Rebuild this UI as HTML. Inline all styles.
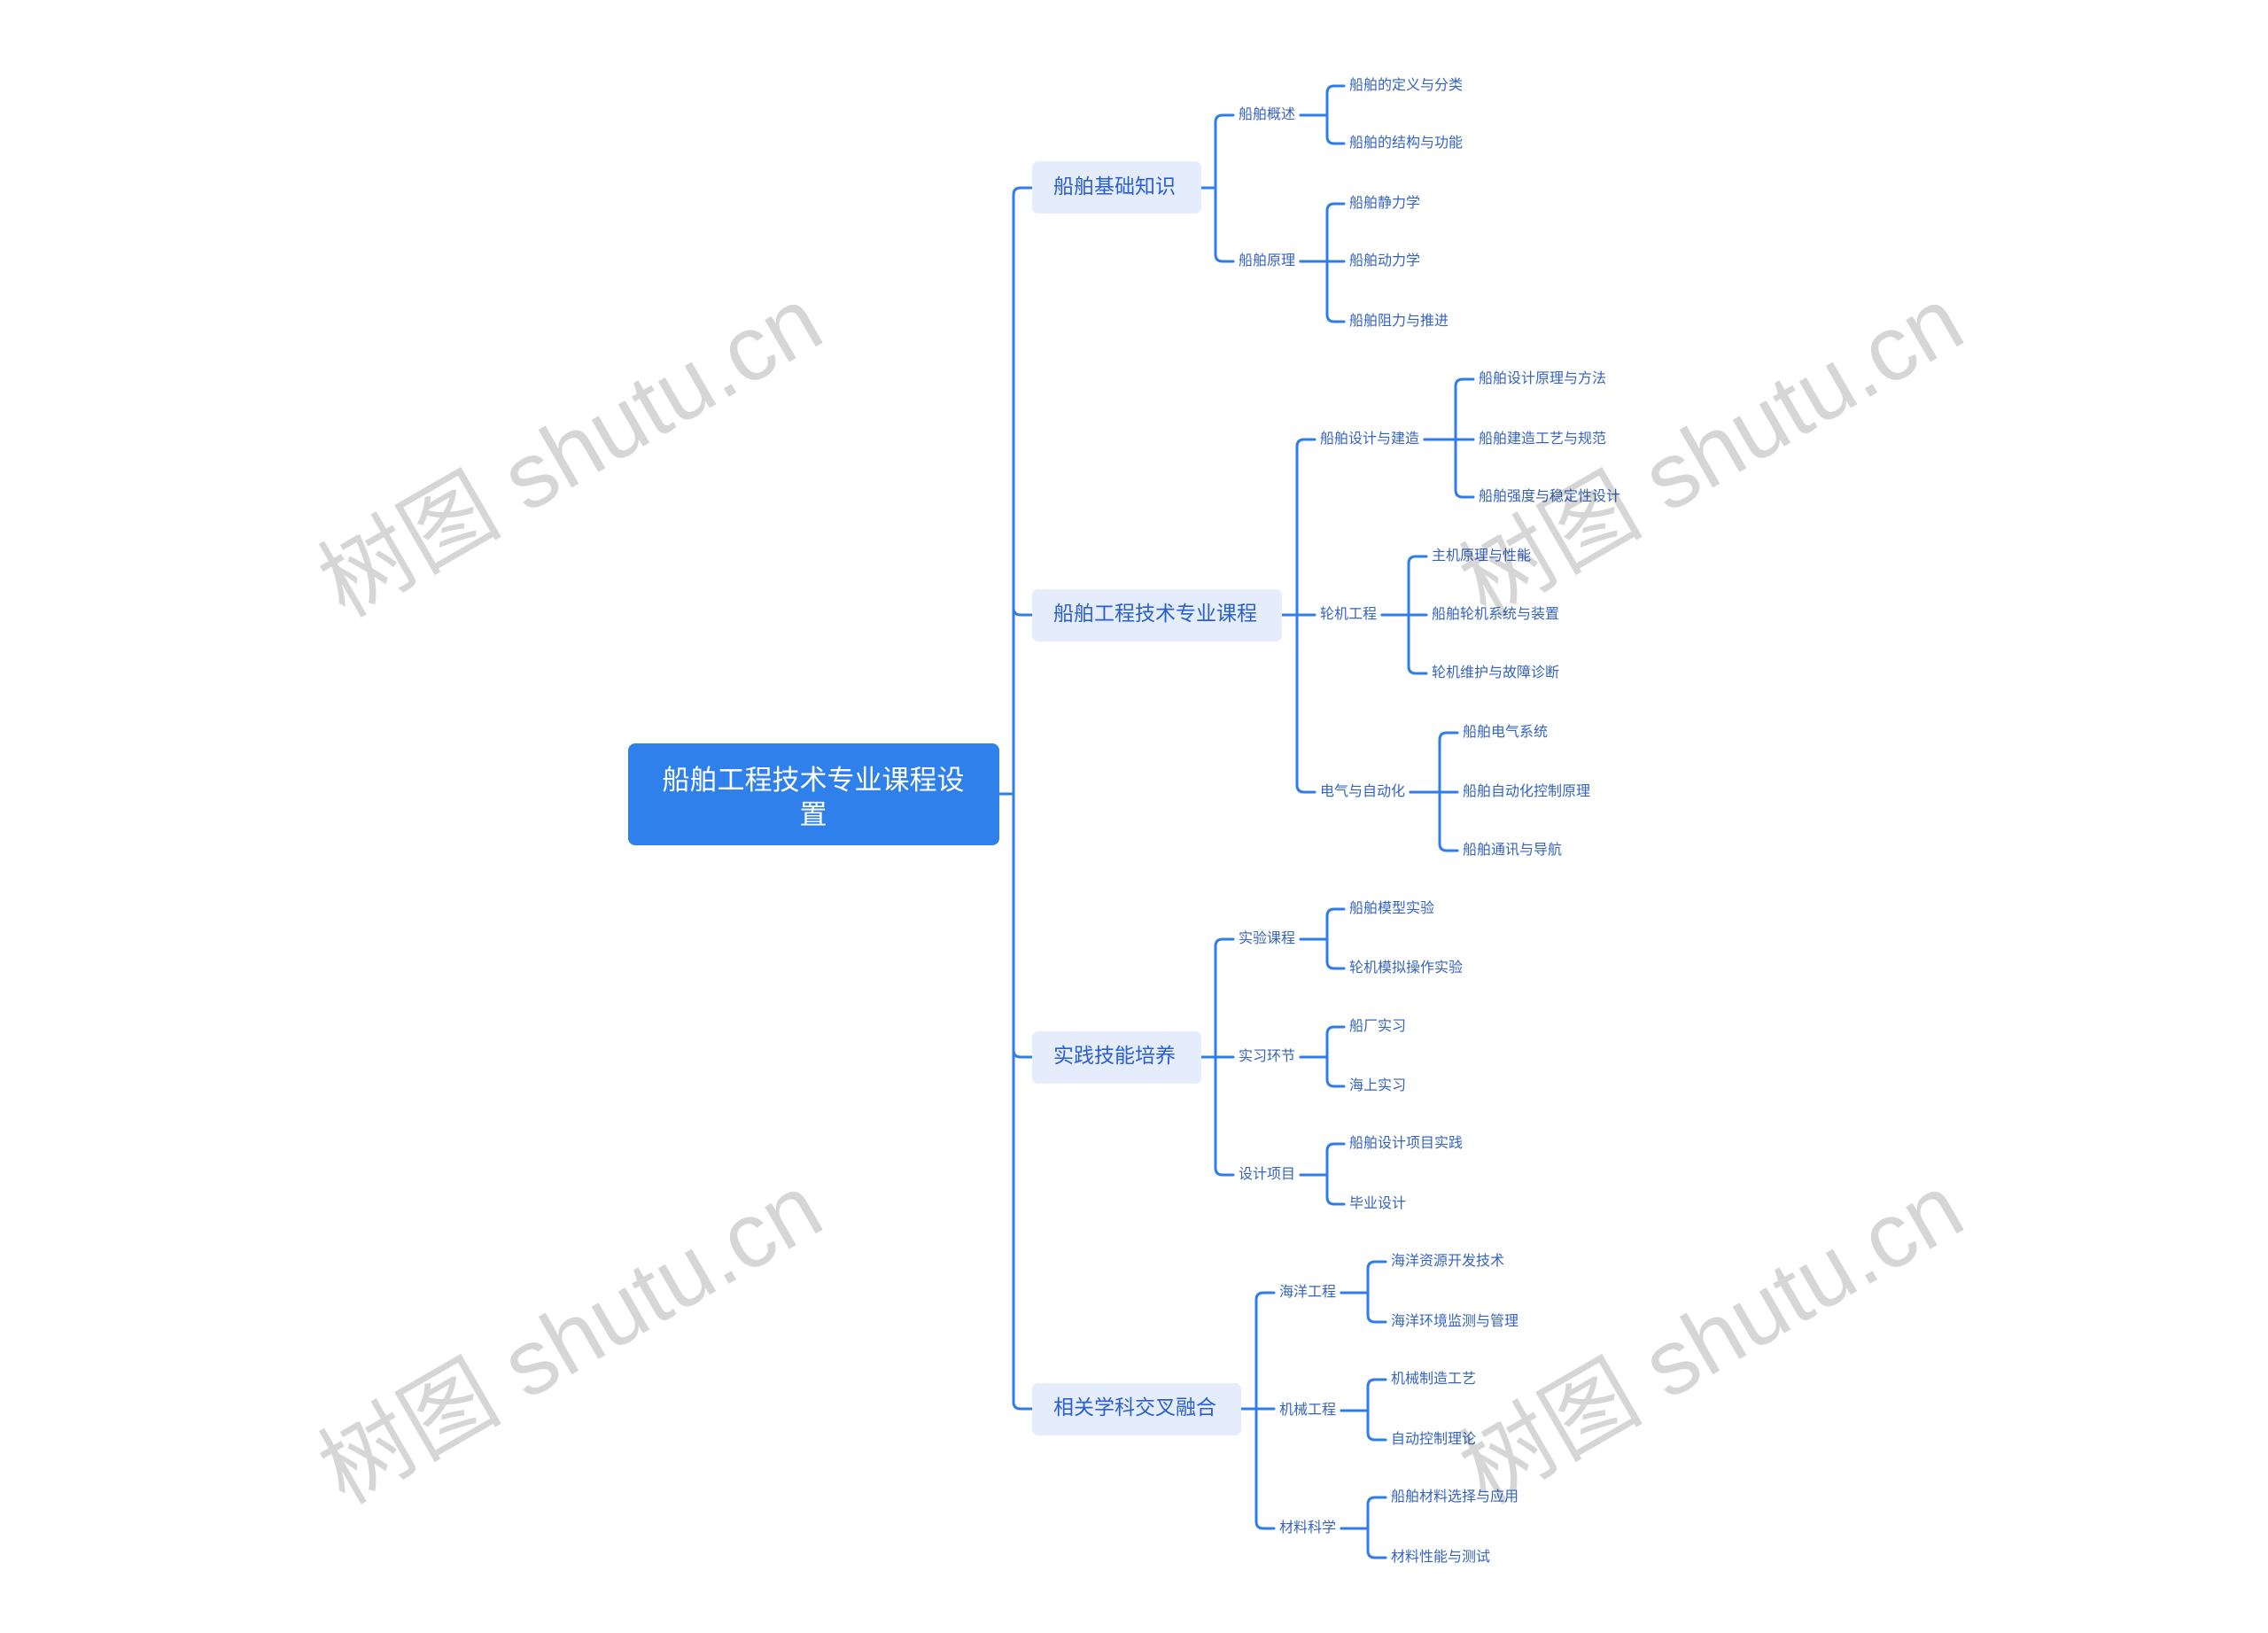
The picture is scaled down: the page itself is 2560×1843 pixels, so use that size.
<!DOCTYPE html>
<html><head><meta charset="utf-8"><style>
html,body{margin:0;padding:0;background:#fff;}
svg{display:block;}
text{font-family:"Liberation Sans","Noto Sans CJK SC",sans-serif;}
.l1{font-size:23px;fill:#2a5fd0;}
.l2{font-size:16px;fill:#3563c0;}
.lf{font-size:16px;fill:#3563c0;}
.wm{font-family:"Liberation Serif","Noto Serif CJK SC",serif;font-size:104px;fill:#000;fill-opacity:0.16;}
</style></head><body>
<svg width="2560" height="1843" viewBox="0 0 2560 1843" xmlns="http://www.w3.org/2000/svg">
<g fill="none" stroke="#2f7de8" stroke-width="3" stroke-linecap="round">
<path d="M1128 896 H1144 V220 Q1144 212 1152 212 H1165"/>
<path d="M1128 896 H1144 V686 Q1144 694 1152 694 H1165"/>
<path d="M1128 896 H1144 V1185 Q1144 1193 1152 1193 H1165"/>
<path d="M1128 896 H1144 V1582 Q1144 1590 1152 1590 H1165"/>
<path d="M1356 212 H1372 V138 Q1372 130 1380 130 H1392"/>
<path d="M1356 212 H1372 V287 Q1372 295 1380 295 H1392"/>
<path d="M1468 130 H1498 V105 Q1498 97 1506 97 H1517"/>
<path d="M1468 130 H1498 V154 Q1498 162 1506 162 H1517"/>
<path d="M1468 295 H1498 V238 Q1498 230 1506 230 H1517"/>
<path d="M1468 295 H1517"/>
<path d="M1468 295 H1498 V355 Q1498 363 1506 363 H1517"/>
<path d="M1447 694 H1464 V504 Q1464 496 1472 496 H1484"/>
<path d="M1447 694 H1484"/>
<path d="M1447 694 H1464 V886 Q1464 894 1472 894 H1484"/>
<path d="M1608 496 H1643 V436 Q1643 428 1651 428 H1663"/>
<path d="M1608 496 H1663"/>
<path d="M1608 496 H1643 V553 Q1643 561 1651 561 H1663"/>
<path d="M1560 694 H1590 V636 Q1590 628 1598 628 H1610"/>
<path d="M1560 694 H1610"/>
<path d="M1560 694 H1590 V752 Q1590 760 1598 760 H1610"/>
<path d="M1592 894 H1625 V835 Q1625 827 1633 827 H1645"/>
<path d="M1592 894 H1645"/>
<path d="M1592 894 H1625 V952 Q1625 960 1633 960 H1645"/>
<path d="M1356 1193 H1372 V1068 Q1372 1060 1380 1060 H1392"/>
<path d="M1356 1193 H1392"/>
<path d="M1356 1193 H1372 V1318 Q1372 1326 1380 1326 H1392"/>
<path d="M1468 1060 H1498 V1034 Q1498 1026 1506 1026 H1517"/>
<path d="M1468 1060 H1498 V1085 Q1498 1093 1506 1093 H1517"/>
<path d="M1468 1193 H1498 V1167 Q1498 1159 1506 1159 H1517"/>
<path d="M1468 1193 H1498 V1218 Q1498 1226 1506 1226 H1517"/>
<path d="M1468 1326 H1498 V1299 Q1498 1291 1506 1291 H1517"/>
<path d="M1468 1326 H1498 V1351 Q1498 1359 1506 1359 H1517"/>
<path d="M1401 1590 H1418 V1467 Q1418 1459 1426 1459 H1438"/>
<path d="M1401 1590 H1438"/>
<path d="M1401 1590 H1418 V1717 Q1418 1725 1426 1725 H1438"/>
<path d="M1514 1459 H1544 V1432 Q1544 1424 1552 1424 H1564"/>
<path d="M1514 1459 H1544 V1484 Q1544 1492 1552 1492 H1564"/>
<path d="M1514 1592 H1544 V1565 Q1544 1557 1552 1557 H1564"/>
<path d="M1514 1592 H1544 V1617 Q1544 1625 1552 1625 H1564"/>
<path d="M1514 1725 H1544 V1698 Q1544 1690 1552 1690 H1564"/>
<path d="M1514 1725 H1544 V1750 Q1544 1758 1552 1758 H1564"/>
</g>
<rect x="709" y="839" width="419" height="115" rx="8" fill="#2f80ea"/>
<text x="918" y="883" text-anchor="middle" dominant-baseline="middle" style="font-size:31px;fill:#fff">船舶工程技术专业课程设</text>
<text x="918" y="922" text-anchor="middle" dominant-baseline="middle" style="font-size:31px;fill:#fff">置</text>
<g fill="#e5edfd">
<rect x="1165" y="182" width="191" height="59" rx="7"/>
<rect x="1165" y="665" width="282" height="59" rx="7"/>
<rect x="1165" y="1164" width="191" height="59" rx="7"/>
<rect x="1165" y="1561" width="236" height="59" rx="7"/>
</g>
<g class="l1" dominant-baseline="middle">
<text x="1189" y="212">船舶基础知识</text>
<text x="1189" y="694">船舶工程技术专业课程</text>
<text x="1189" y="1193">实践技能培养</text>
<text x="1189" y="1590">相关学科交叉融合</text>
</g>
<g class="l2" dominant-baseline="middle">
<text x="1398" y="130">船舶概述</text>
<text x="1398" y="295">船舶原理</text>
<text x="1490" y="496">船舶设计与建造</text>
<text x="1490" y="694">轮机工程</text>
<text x="1490" y="894">电气与自动化</text>
<text x="1398" y="1060">实验课程</text>
<text x="1398" y="1193">实习环节</text>
<text x="1398" y="1326">设计项目</text>
<text x="1444" y="1459">海洋工程</text>
<text x="1444" y="1592">机械工程</text>
<text x="1444" y="1725">材料科学</text>
</g>
<g class="lf" dominant-baseline="middle">
<text x="1523" y="97">船舶的定义与分类</text>
<text x="1523" y="162">船舶的结构与功能</text>
<text x="1523" y="230">船舶静力学</text>
<text x="1523" y="295">船舶动力学</text>
<text x="1523" y="363">船舶阻力与推进</text>
<text x="1669" y="428">船舶设计原理与方法</text>
<text x="1669" y="496">船舶建造工艺与规范</text>
<text x="1669" y="561">船舶强度与稳定性设计</text>
<text x="1616" y="628">主机原理与性能</text>
<text x="1616" y="694">船舶轮机系统与装置</text>
<text x="1616" y="760">轮机维护与故障诊断</text>
<text x="1651" y="827">船舶电气系统</text>
<text x="1651" y="894">船舶自动化控制原理</text>
<text x="1651" y="960">船舶通讯与导航</text>
<text x="1523" y="1026">船舶模型实验</text>
<text x="1523" y="1093">轮机模拟操作实验</text>
<text x="1523" y="1159">船厂实习</text>
<text x="1523" y="1226">海上实习</text>
<text x="1523" y="1291">船舶设计项目实践</text>
<text x="1523" y="1359">毕业设计</text>
<text x="1570" y="1424">海洋资源开发技术</text>
<text x="1570" y="1492">海洋环境监测与管理</text>
<text x="1570" y="1557">机械制造工艺</text>
<text x="1570" y="1625">自动控制理论</text>
<text x="1570" y="1690">船舶材料选择与应用</text>
<text x="1570" y="1758">材料性能与测试</text>
</g>
<g class="wm" text-anchor="middle" dominant-baseline="middle">
<text transform="translate(648,517) rotate(-30)">树图 shutu.cn</text>
<text transform="translate(1936,517) rotate(-30)">树图 shutu.cn</text>
<text transform="translate(648,1518) rotate(-30)">树图 shutu.cn</text>
<text transform="translate(1936,1518) rotate(-30)">树图 shutu.cn</text>
</g>
</svg>
</body></html>
